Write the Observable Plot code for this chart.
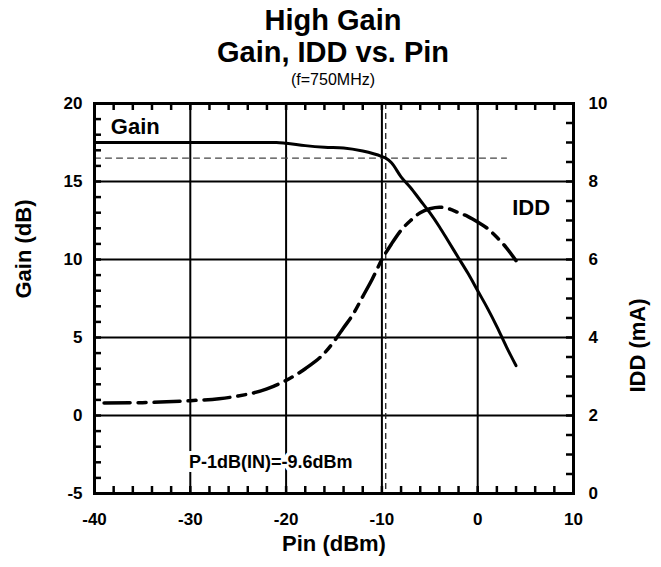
<!DOCTYPE html>
<html><head><meta charset="utf-8">
<script src="https://cdn.jsdelivr.net/npm/d3@7"></script>
<script src="https://cdn.jsdelivr.net/npm/@observablehq/plot@0.6"></script>
<style>
body{margin:0;background:#fff;font-family:"Liberation Sans",Arial,sans-serif;}
#wrap{position:relative;width:661px;height:567px;overflow:hidden;}
.t{position:absolute;left:0;width:666px;text-align:center;color:#000;white-space:nowrap;}
#t1{top:4px;font-size:29px;font-weight:bold;line-height:32px;}
#t2{top:36px;font-size:29px;font-weight:bold;line-height:32px;}
#t3{top:71px;font-size:16px;line-height:18px;}
#chart{position:absolute;left:0;top:90px;}
</style>
</head><body>
<div id="wrap">
<div class="t" id="t1">High Gain</div>
<div class="t" id="t2">Gain, IDD vs. Pin</div>
<div class="t" id="t3">(f=750MHz)</div>
<div id="chart"></div>
</div>
<script>
// Gain curve (left axis, dB)
const gainPin = [-40,-30,-25,-21,-20,-18,-16,-14,-12,-10,-9.6,-9,-8,-7,-6,-5,-4,-3,-2,-1,0,1,2,3,4];
const gainDb  = [17.5,17.5,17.5,17.5,17.45,17.3,17.2,17.15,16.95,16.6,16.5,16.2,15.3,14.6,13.8,13.0,12.1,11.1,10.1,9.1,8.0,6.9,5.7,4.4,3.2];
// IDD curve (right axis, mA)
const iddPin = [-39,-35,-30,-27,-25,-22,-20,-18,-16,-15,-14,-13,-12,-11,-10,-9,-8,-7,-6,-5,-4,-3,-2,-1,0,1,2,3,4];
const iddMa  = [2.32,2.33,2.38,2.43,2.5,2.68,2.9,3.2,3.6,3.9,4.25,4.6,5.05,5.5,6.0,6.4,6.75,7.0,7.2,7.3,7.34,7.3,7.2,7.1,6.96,6.8,6.57,6.3,5.97];
// P-1dB reference
const p1dbPin = [-9.6];
const p1dbGain = [16.5];
const refLinePin = [-40, 3];
// Axes
const xTicks = [-40,-30,-20,-10,0,10];
const gainTicks = [-5,0,5,10,15,20];
const iddTicks = [0,2,4,6,8,10];
const xGrid = [-30,-20,-10,0];
const gainGrid = [0,5,10,15];
const xMinor = [-38,-36,-34,-32,-30,-28,-26,-24,-22,-20,-18,-16,-14,-12,-10,-8,-6,-4,-2,0,2,4,6,8];
const gainMinor = [-4,-3,-2,-1,0,1,2,3,4,5,6,7,8,9,10,11,12,13,14,15,16,17,18,19];
const iddMinor = [0.5,1,1.5,2,2.5,3,3.5,4,4.5,5,5.5,6,6.5,7,7.5,8,8.5,9,9.5];
const labels = {x:"Pin (dBm)", yLeft:"Gain (dB)", yRight:"IDD (mA)", gain:"Gain", idd:"IDD", note:"P-1dB(IN)=-9.6dBm"};

const toGain = v => v * 2.5 - 5;   // mA -> left-axis units (0..10 mA <-> -5..20 dB)
const toIdd = g => (g + 5) / 2.5;

const gainData = gainPin.map((p, i) => ({pin: p, v: gainDb[i]}));
const iddData = iddPin.map((p, i) => ({pin: p, v: iddMa[i]}));
const refH = refLinePin.map(p => ({pin: p, v: p1dbGain[0]}));

const W = 661, H = 477, mT = 13, mB = 74, mL = 94, mR = 88;
const innerW = W - mL - mR, innerH = H - mT - mB, tickLen = 7;
const tickStyle = {stroke: "black", strokeWidth: 2.5};

const font = "'Liberation Sans', Arial, sans-serif";

const chart = Plot.plot({
  width: W,
  height: H,
  marginTop: mT,
  marginBottom: mB,
  marginLeft: mL,
  marginRight: mR,
  style: {fontFamily: font, fontSize: "17px", fontWeight: "bold", color: "black", background: "white"},
  x: {domain: [-40, 10], label: null},
  y: {domain: [-5, 20], label: null},
  marks: [
    Plot.ruleX(xGrid, {x: d => d, stroke: "#000", strokeWidth: 2}),
    Plot.ruleY(gainGrid, {y: d => d, stroke: "#000", strokeWidth: 2}),
    Plot.ruleX(p1dbPin, {x: d => d, stroke: "#222", strokeWidth: 1.3, strokeDasharray: "6,4"}),
    Plot.line(refH, {x: "pin", y: "v", stroke: "#444", strokeWidth: 1.3, strokeDasharray: "6,5"}),
    Plot.line(iddData, {x: "pin", y: d => toGain(d.v), stroke: "#000", strokeWidth: 3.5, strokeDasharray: "26,8,8,8", curve: "monotone-x"}),
    Plot.line(gainData, {x: "pin", y: "v", stroke: "#000", strokeWidth: 3, curve: "monotone-x"}),
    Plot.frame({stroke: "#000", strokeWidth: 3}),
    // inward minor ticks
    Plot.ruleX(xMinor, {x: d => d, insetTop: innerH - tickLen, ...tickStyle}),
    Plot.ruleX(xMinor, {x: d => d, insetBottom: innerH - tickLen, ...tickStyle}),
    Plot.ruleY(gainMinor, {y: d => d, insetRight: innerW - tickLen, ...tickStyle}),
    Plot.ruleY(iddMinor, {y: d => toGain(d), insetLeft: innerW - tickLen, ...tickStyle}),
    // tick labels
    Plot.axisX(xTicks, {anchor: "bottom", tickSize: 0, tickPadding: 19, label: null, tickFormat: d => String(d), fontWeight: "bold"}),
    Plot.axisY(gainTicks, {anchor: "left", tickSize: 0, tickPadding: 12, label: null, tickFormat: d => String(d), fontWeight: "bold"}),
    Plot.axisY(iddTicks.map(toGain), {anchor: "right", tickSize: 0, tickPadding: 15, label: null, tickFormat: g => String(Math.round(toIdd(g))), fontWeight: "bold"}),
    // axis titles
    Plot.text([labels.x], {text: d => d, frameAnchor: "bottom", dy: 57, fontSize: 22, fontWeight: "bold"}),
    Plot.text([labels.yLeft], {text: d => d, frameAnchor: "left", dx: -71, rotate: -90, fontSize: 22, fontWeight: "bold"}),
    Plot.text([labels.yRight], {text: d => d, frameAnchor: "right", dx: 64, rotate: -90, fontSize: 22, fontWeight: "bold"}),
    // series labels and note
    Plot.text([labels.gain], {text: d => d, x: -38.3, y: 18.5, textAnchor: "start", fontSize: 22, fontWeight: "bold"}),
    Plot.text([labels.idd], {text: d => d, x: 3.6, y: toGain(7.33), textAnchor: "start", fontSize: 22, fontWeight: "bold"}),
    Plot.text([labels.note], {text: d => d, x: -21.6, y: -3.0, fontSize: 18, fontWeight: "bold", stroke: "#fff", strokeWidth: 8, fill: "#000"})
  ]
});
document.getElementById("chart").appendChild(chart);
</script>
</body></html>
